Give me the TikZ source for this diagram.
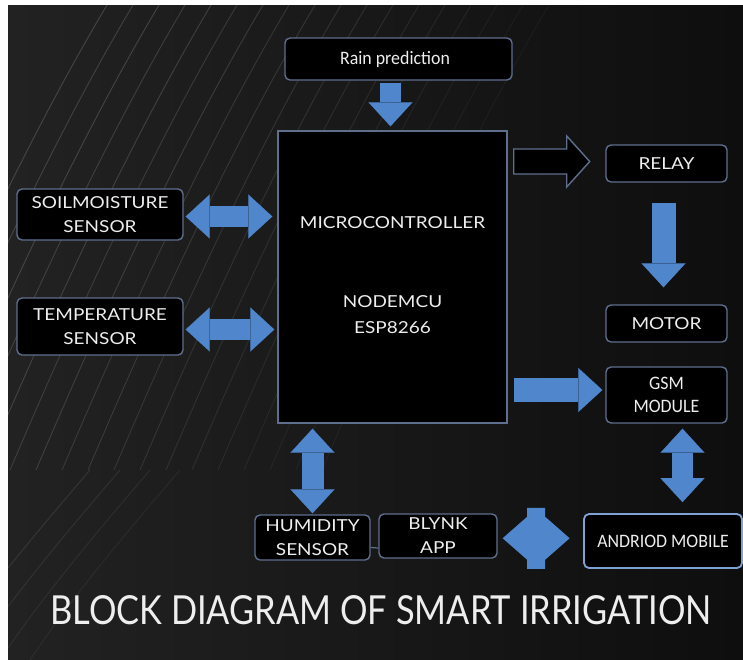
\documentclass[tikz,border=0pt]{standalone}
\usepackage{fontspec}
\setmainfont{Carlito}
\newfontfamily\cond[FakeStretch=0.94]{Carlito}
\newfontfamily\hand[FakeStretch=1.15]{Lato}
\newfontfamily\handtitle[FakeStretch=0.86]{Lato}
\usetikzlibrary{arrows.meta,calc}
\definecolor{bgA}{HTML}{222222}
\definecolor{bgB}{HTML}{0E0E0E}
\definecolor{abl}{HTML}{4F86CC}
\definecolor{bord}{HTML}{5E6F8E}
\definecolor{bordl}{HTML}{7FA2D6}
\definecolor{txt}{HTML}{EEEEEE}
\definecolor{ripple}{HTML}{9A9A9A}
\begin{document}
\begin{tikzpicture}[x=1pt,y=-1pt,
  box/.style={draw=bord, line width=1.4pt, fill=black, rounded corners=5pt, text=txt, align=center, inner sep=0pt},
  hw/.style={font=\hand\fontsize{16.5}{24}\selectfont, text=txt, align=center},
  cb/.style={font=\cond\fontsize{19}{23}\selectfont, text=txt, align=center},
  barrow/.style={draw=abl, line width=21pt, -{Triangle[length=24pt,width=44pt,line width=0.1pt]}},
  dbarrow/.style={draw=abl, line width=21pt, {Triangle[length=24pt,width=44pt,line width=0.1pt]}-{Triangle[length=24pt,width=44pt,line width=0.1pt]}},
  hollowarr/.style={draw=bord, line width=1.4pt, fill=black},
  blockfill/.style={fill=abl},
  wave/.style={draw=ripple, line width=0.9pt}
]
\useasboundingbox (0,0) rectangle (743,659);
\fill[white] (0,0) rectangle (743,659);
\shade[left color=bgA, right color=bgB] (8,5) rectangle (743,659);
% sand ripples
\begin{scope}
\clip (8,5) rectangle (743,659);
\foreach \i/\o in {0/0.30,1/0.28,2/0.30,3/0.26,4/0.28,5/0.24,6/0.25,7/0.22,8/0.22,9/0.20,10/0.18,11/0.16,12/0.15,13/0.13,14/0.11,15/0.09,16/0.08,17/0.07}{
  \draw[wave, opacity=\o] ({-120+\i*26},470) .. controls ({-60+\i*26},330) and ({20+\i*26},150) .. ({110+\i*26},0);
}
\foreach \i/\o in {0/0.18,1/0.15,2/0.12,3/0.10}{
  \draw[wave, opacity=\o] ({-60+\i*30},660) .. controls ({-20+\i*30},600) and ({30+\i*30},540) .. ({90+\i*30},470);
}
\end{scope}

% nodes
\node[box, minimum width=227pt, minimum height=42pt] (rain) at (398.5,59) {};
\node[cb] (raint) at (395,59) {Rain prediction};
\node[box, minimum width=229pt, minimum height=292pt, rounded corners=0pt] (mcu) at (392.5,277) {};
\node[hw] (mcut1) at ($(mcu.center)+(0,-54)$) {MICROCONTROLLER};
\node[hw] (mcut2) at ($(mcu.center)+(0,25)$) {NODEMCU};
\node[hw] (mcut3) at ($(mcu.center)+(0,51)$) {ESP8266};
\node[box, hw, minimum width=166pt, minimum height=51pt] (soil) at (100,214.5) {SOILMOISTURE\\SENSOR};
\node[box, hw, minimum width=166pt, minimum height=57pt] (temp) at (100,326.5) {TEMPERATURE\\SENSOR};
\node[box, hw, minimum width=121pt, minimum height=37pt] (relay) at (666.5,163.5) {RELAY};
\node[box, hw, minimum width=121pt, minimum height=37pt] (motor) at (666.5,323.5) {MOTOR};
\node[box, cb, minimum width=121pt, minimum height=56pt] (gsm) at (666.5,395) {GSM\\MODULE};
\node[box, cb, draw=bordl, line width=1.8pt, minimum width=158pt, minimum height=54pt] (android) at (663,541) {ANDRIOD MOBILE};
\node[box, hw, minimum width=115pt, minimum height=45pt] (hum) at (312.5,537.5) {HUMIDITY\\SENSOR};
\node[box, hw, minimum width=118pt, minimum height=44pt] (blynk) at (438,536) {BLYNK\\APP};
\node[font=\handtitle\fontsize{40}{44}\selectfont, text=txt] (title) at (381,610) {BLOCK DIAGRAM OF SMART IRRIGATION};

% connectors
\draw[barrow] ($(rain.south -| mcu.north)+(-2,2)$) -- ($(mcu.north)+(-2,-4)$);
\draw[dbarrow] ($(soil.east)+(2,2)$) -- ($(soil.east -| mcu.west)+(-5,2)$);
\draw[dbarrow] ($(temp.east)+(2,3)$) -- ($(temp.east -| mcu.west)+(-3,3)$);
\coordinate (ha) at ($(mcu.east |- relay.west)+(6,-2)$);
\draw[hollowarr] ($(ha)+(0,-12.5)$) -- ++(53,0) -- ++(0,-13) -- ++(23,25.5) -- ++(-23,25.5) -- ++(0,-13) -- ++(-53,0) -- cycle;
\draw[barrow, line width=24pt] ($(relay.south)+(-3,20)$) -- ($(motor.north)+(-3,-17)$);
\draw[barrow, line width=24pt] ($(mcu.east |- gsm.west)+(6,-5)$) -- ($(gsm.west)+(-3,-5)$);
\draw[dbarrow] ($(gsm.south)+(16,5)$) -- ($(android.north -| gsm.south)+(16,-11)$);
\draw[dbarrow, line width=22pt] ($(mcu.south -| hum.north)+(0,5)$) -- ($(hum.north)+(0,-1)$);
\draw[bord, line width=1.2pt] ($(hum.east)+(0,10)$) -- ($(blynk.west)+(0,12)$);
\coordinate (bd) at ($(blynk.east)!0.45!(android.west)$);
\fill[blockfill] ($(bd)+(-33.5,0)$) -- ++(24.5,-21.5) -- ++(0,-9) -- ++(18,0) -- ++(0,9) -- ++(24.5,21.5) -- ++(-24.5,21.5) -- ++(0,9) -- ++(-18,0) -- ++(0,-9) -- cycle;
\end{tikzpicture}
\end{document}
